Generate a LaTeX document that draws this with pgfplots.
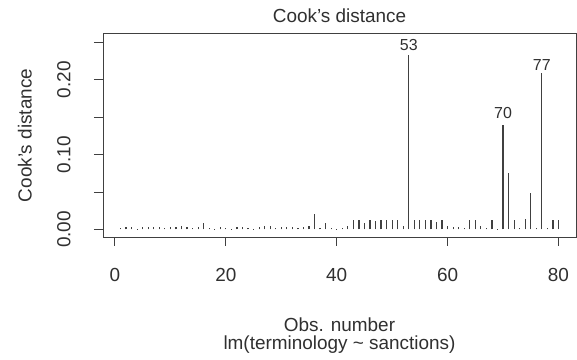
\documentclass[border=0pt]{standalone}
\usepackage{fontspec}
\setmainfont{Liberation Sans}
\usepackage{pgfplots}
\pgfplotsset{compat=1.18}
\definecolor{txt}{HTML}{303030}
\definecolor{ln}{HTML}{404040}
\begin{document}
\begin{tikzpicture}
\useasboundingbox (0,0) rectangle (577bp,360bp);
\fill[white] (0,0) rectangle (577bp,360bp);
\begin{axis}[
  at={(103bp,123bp)}, anchor=south west,
  scale only axis, width=473bp, height=203bp,
  xmin=-2.16, xmax=83.16, ymin=-0.01004, ymax=0.2610,
  axis line style={ln, line width=1bp},
  every tick/.style={ln, line width=1bp},
  tick align=outside, major tick length=9bp,
  xtick pos=bottom, ytick pos=left,
  xtick={0,20,40,60,80},
  ytick={0,0.05,0.10,0.15,0.20,0.25},
  yticklabels={0.00,,0.10,,0.20,},
  /pgf/number format/assume math mode=true,
  tick label style={font=\fontsize{19}{19}\selectfont, txt},
  xticklabel style={yshift=-19bp},
  yticklabel style={rotate=90, anchor=south, yshift=20bp},
  title={Cook's distance},
  title style={font=\fontsize{19}{19}\selectfont, txt, at={(axis description cs:0.5,1.0)}, anchor=center, yshift=12bp},
  xlabel={Obs. number},
  xlabel style={font=\fontsize{19}{19}\selectfont, txt, at={(axis description cs:0.5,-0.4335)}, anchor=center},
  ylabel={Cook's distance},
  ylabel style={font=\fontsize{19}{19}\selectfont, txt, at={(axis description cs:-0.165,0.5)}, rotate=0, anchor=center},
  clip=false,
  axis background/.style={fill=white},
]
\addplot[ycomb, ln, line width=1.2bp] coordinates {
(1,0.002) (2,0.003) (3,0.003) (4,0.001) (5,0.003) (6,0.003) (7,0.003) (8,0.003) (9,0.002) (10,0.003)
(11,0.003) (12,0.004) (13,0.003) (14,0.002) (15,0.003) (16,0.009) (17,0.002) (18,0.001) (19,0.003) (20,0.002)
(21,0.001) (22,0.003) (23,0.003) (24,0.002) (25,0.001) (26,0.003) (27,0.004) (28,0.004) (29,0.002) (30,0.003)
(31,0.003) (32,0.003) (33,0.002) (34,0.003) (35,0.004) (36,0.021) (37,0.002) (38,0.009) (39,0.002) (40,0.001)
(41,0.002) (42,0.005) (43,0.012) (44,0.013) (45,0.009) (46,0.013) (47,0.011) (48,0.013) (49,0.013) (50,0.012)
(51,0.013) (52,0.004) (53,0.2335) (54,0.012) (55,0.013) (56,0.013) (57,0.012) (58,0.010) (59,0.012) (60,0.004)
(61,0.003) (62,0.003) (63,0.002) (64,0.012) (65,0.012) (66,0.004) (67,0.002) (68,0.013) (69,0.001) (70,0.140)
(71,0.075) (72,0.012) (73,0.002) (74,0.014) (75,0.049) (76,0.002) (77,0.209) (78,0.002) (79,0.013) (80,0.013)
};
\node[txt, font=\fontsize{16}{16}\selectfont, anchor=center] at (axis cs:53,0.2335) [yshift=10bp] {53};
\node[txt, font=\fontsize{16}{16}\selectfont, anchor=center] at (axis cs:70,0.140) [yshift=12bp] {70};
\node[txt, font=\fontsize{16}{16}\selectfont, anchor=center] at (axis cs:77,0.209) [yshift=8bp] {77};
\node[txt, font=\fontsize{19}{19}\selectfont, anchor=center] at (axis description cs:0.5,-0.532) {lm(terminology \textasciitilde{} sanctions)};
\end{axis}
\end{tikzpicture}
\end{document}
